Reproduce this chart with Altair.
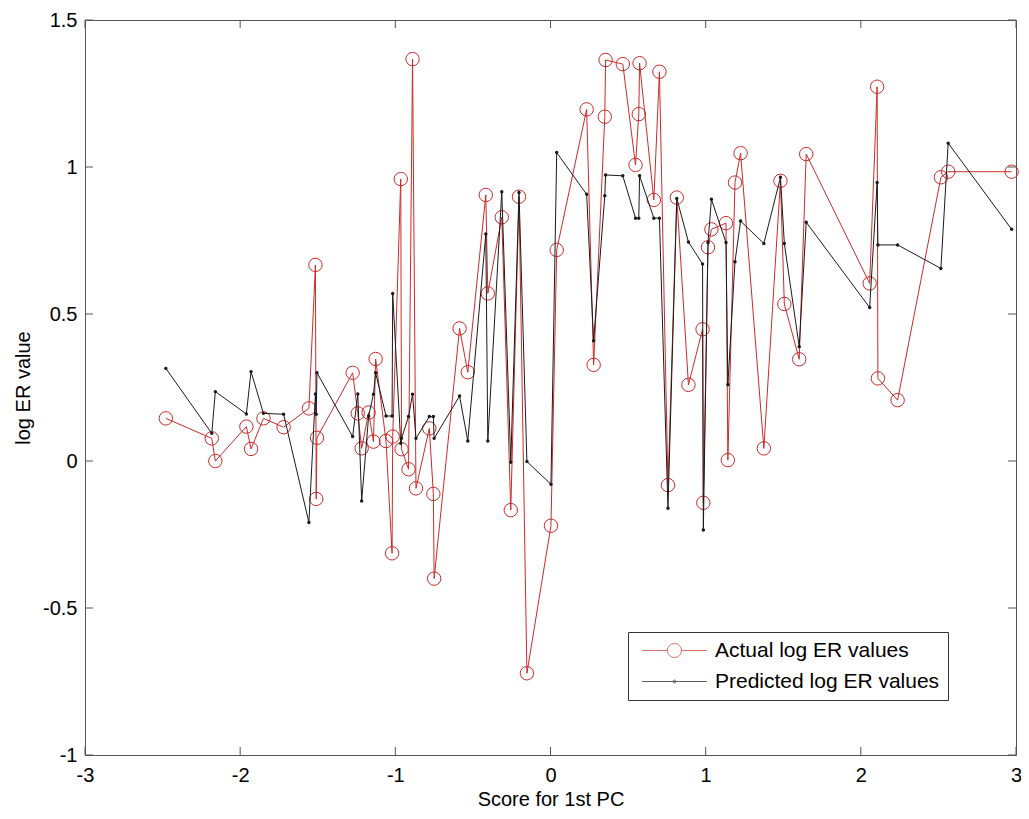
import altair as alt
import pandas as pd

# ---- data ----
score = [-2.479, -2.183, -2.160, -1.960, -1.930, -1.850, -1.720, -1.557, -1.515, -1.510,
         -1.505, -1.275, -1.242, -1.217, -1.172, -1.141, -1.127, -1.060, -1.021, -1.017,
         -0.965, -0.960, -0.915, -0.889, -0.867, -0.781, -0.755, -0.750, -0.586, -0.533,
         -0.417, -0.404, -0.314, -0.256, -0.203, -0.152, 0.003, 0.040, 0.233, 0.278,
         0.350, 0.355, 0.466, 0.548, 0.569, 0.574, 0.666, 0.702, 0.757, 0.814,
         0.889, 0.980, 0.985, 1.015, 1.037, 1.131, 1.143, 1.189, 1.225, 1.375,
         1.482, 1.507, 1.603, 1.648, 2.057, 2.105, 2.110, 2.237, 2.516, 2.563, 2.972]
actual = [0.145, 0.077, 0.000, 0.117, 0.041, 0.145, 0.115, 0.179, 0.667, -0.129,
          0.079, 0.300, 0.162, 0.043, 0.165, 0.066, 0.347, 0.068, -0.314, 0.083,
          0.959, 0.040, -0.028, 1.367, -0.093, 0.111, -0.112, -0.400, 0.451, 0.302,
          0.905, 0.570, 0.829, -0.167, 0.899, -0.722, -0.220, 0.718, 1.196, 0.327,
          1.171, 1.364, 1.350, 1.007, 1.180, 1.353, 0.888, 1.324, -0.082, 0.896,
          0.259, 0.448, -0.142, 0.727, 0.788, 0.809, 0.003, 0.947, 1.047, 0.043,
          0.953, 0.534, 0.346, 1.044, 0.604, 1.273, 0.281, 0.207, 0.965, 0.984, 0.984]
predicted = [0.315, 0.094, 0.236, 0.160, 0.304, 0.162, 0.159, -0.209, 0.228, 0.159,
             0.300, 0.083, 0.228, -0.136, 0.153, 0.227, 0.300, 0.153, 0.153, 0.570,
             0.060, 0.077, 0.151, 0.227, 0.077, 0.151, 0.151, 0.077, 0.221, 0.068,
             0.772, 0.068, 0.916, -0.004, 0.913, -0.002, -0.079, 1.049, 0.907, 0.409,
             0.902, 0.973, 0.970, 0.826, 0.826, 0.970, 0.826, 0.826, -0.161, 0.893,
             0.745, 0.670, -0.235, 0.743, 0.890, 0.743, 0.259, 0.678, 0.816, 0.740,
             0.965, 0.740, 0.389, 0.812, 0.522, 0.947, 0.735, 0.735, 0.655, 1.081, 0.788]
series_names = ["Actual log ER values", "Predicted log ER values"]
x_ticks = [-3, -2, -1, 0, 1, 2, 3]
y_ticks = [-1, -0.5, 0, 0.5, 1, 1.5]

# ---- styling ----
RED = "#cc2a2a"
BLACK = "#1a1a1a"
FRAME = "#555555"
FONT = "Liberation Sans"
W, H = 931, 735
TICK = 8

df = pd.DataFrame({"score": score, "actual": actual, "predicted": predicted})
n = len(score)
df_long = pd.DataFrame({
    "score": score + score,
    "value": actual + predicted,
    "series": [series_names[0]] * n + [series_names[1]] * n,
})
df_xt = pd.DataFrame({"v": x_ticks})
df_yt = pd.DataFrame({"v": y_ticks})

xscale = alt.Scale(domain=[-3, 3], nice=False, zero=False)
yscale = alt.Scale(domain=[-1, 1.5], nice=False, zero=False)
label_expr = "datum.value < 0 ? '-' + format(-datum.value, '~g') : format(datum.value, '~g')"

common_axis = dict(grid=False, ticks=False, domain=False, labelFont=FONT, labelFontSize=20,
                   labelColor="black", titleFont=FONT, titleFontSize=20,
                   titleFontWeight="normal", titleColor="black", labelFlush=False,
                   labelOverlap=False, labelExpr=label_expr)
xaxis = alt.Axis(title="Score for 1st PC", values=x_ticks, labelPadding=10,
                 titlePadding=4, **common_axis)
yaxis = alt.Axis(title="log ER value", values=y_ticks, labelPadding=8,
                 titlePadding=9, **common_axis)


def X(field):
    return alt.X(f"{field}:Q", scale=xscale, axis=xaxis)


def Y(field):
    return alt.Y(f"{field}:Q", scale=yscale, axis=yaxis)


red_line = alt.Chart(df).mark_line(color=RED, strokeWidth=1).encode(x=X("score"), y=Y("actual"))
red_pts = alt.Chart(df).mark_point(shape="circle", filled=False, color=RED, size=180,
                                   strokeWidth=1, opacity=1).encode(x=X("score"), y=Y("actual"))
black_line = alt.Chart(df).mark_line(color=BLACK, strokeWidth=1).encode(x=X("score"), y=Y("predicted"))
black_pts = alt.Chart(df).mark_circle(color=BLACK, size=12, opacity=1).encode(
    x=X("score"), y=Y("predicted"))

# legend (built from the series names via the color/shape scales)
r_c, r_d, half = 1.17, 0.25, 5.4
path_actual = (f"M{-half},0L{-r_c},0M{r_c},0L{half},0"
               f"M{r_c},0A{r_c},{r_c},0,1,1,{-r_c},0A{r_c},{r_c},0,1,1,{r_c},0Z")
path_pred = (f"M{-half},0L{half},0"
             f"M{r_d},0A{r_d},{r_d},0,1,1,{-r_d},0A{r_d},{r_d},0,1,1,{r_d},0Z")
leg = alt.Legend(title=None, orient="none", legendX=543, legendY=612, padding=8,
                 strokeColor="#333333", fillColor="white", labelFont=FONT,
                 labelFontSize=21, labelColor="black", symbolSize=144,
                 symbolStrokeWidth=1, symbolOffset=28, labelOffset=30,
                 rowPadding=9, cornerRadius=0, labelLimit=400)
legend_layer = alt.Chart(df_long).transform_filter("false").mark_point(
    filled=False, strokeWidth=1).encode(
    x=X("score"), y=Y("value"),
    color=alt.Color("series:N", scale=alt.Scale(domain=series_names, range=[RED, BLACK]), legend=leg),
    shape=alt.Shape("series:N", scale=alt.Scale(domain=series_names, range=[path_actual, path_pred]),
                    legend=leg),
)

# inward tick marks on all four sides (positions from the axis scales)
xt_bottom = alt.Chart(df_xt).mark_rule(color=FRAME, strokeWidth=1).encode(
    x=X("v"), y=alt.value(H), y2=alt.value(H - TICK))
xt_top = alt.Chart(df_xt).mark_rule(color=FRAME, strokeWidth=1).encode(
    x=X("v"), y=alt.value(0), y2=alt.value(TICK))
yt_left = alt.Chart(df_yt).mark_rule(color=FRAME, strokeWidth=1).encode(
    y=Y("v"), x=alt.value(0), x2=alt.value(TICK))
yt_right = alt.Chart(df_yt).mark_rule(color=FRAME, strokeWidth=1).encode(
    y=Y("v"), x=alt.value(W), x2=alt.value(W - TICK))

chart = alt.layer(
    xt_bottom, xt_top, yt_left, yt_right,
    red_line, red_pts, black_line, black_pts, legend_layer,
).properties(
    width=W, height=H,
    autosize=alt.AutoSizeParams(type="none"),
    padding={"left": 77, "top": 12, "right": 5, "bottom": 56},
    background="white",
).configure_view(stroke=FRAME, strokeWidth=1)

chart.save("out.html", embed_options={"renderer": "svg", "actions": False})
